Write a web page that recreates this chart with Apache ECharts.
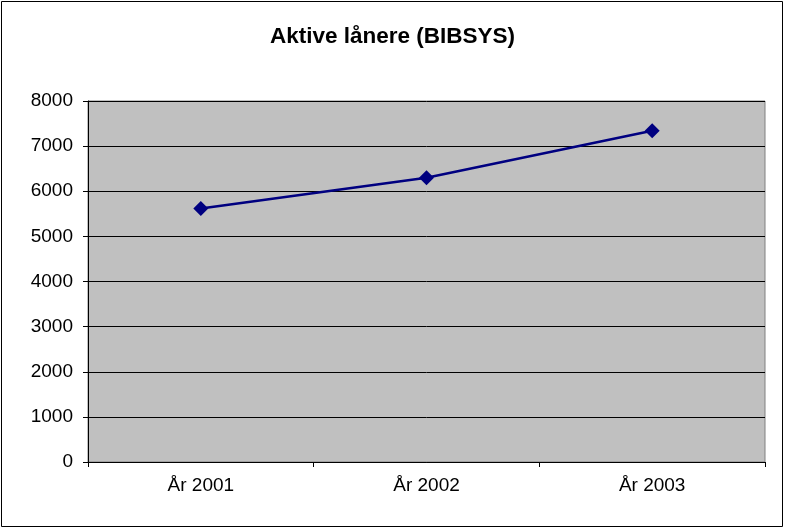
<!DOCTYPE html>
<html>
<head>
<meta charset="utf-8">
<script src="https://cdn.jsdelivr.net/npm/echarts@6/dist/echarts.min.js"></script>
<style>
  html, body { margin: 0; padding: 0; background: #fff; }
  #chart { width: 785px; height: 529px; }
</style>
</head>
<body>
<div id="chart"></div>
<script>
const categories = ['År 2001', 'År 2002', 'År 2003']
const borrowers = [5620, 6300, 7340]
const yMin = 0
const yMax = 8000
const yStep = 1000

const chart = echarts.init(document.getElementById('chart'), null, { renderer: 'canvas' })

chart.setOption({
  animation: false,
  backgroundColor: '#ffffff',
  title: {
    text: 'Aktive lånere (BIBSYS)',
    left: 'center',
    top: 20,
    textStyle: {
      fontFamily: 'Liberation Sans, Arial, sans-serif',
      fontSize: 22.5,
      fontWeight: 'bold',
      color: '#000'
    }
  },
  graphic: [
    {
      type: 'rect',
      shape: { x: 1.5, y: 1.5, width: 781, height: 525 },
      style: { fill: 'none', stroke: '#000', lineWidth: 1 },
      silent: true
    }
  ],
  grid: {
    left: 88,
    right: 20,
    top: 101,
    bottom: 67,
    show: true,
    backgroundColor: '#c0c0c0',
    borderColor: '#808080',
    borderWidth: 1
  },
  xAxis: {
    type: 'category',
    data: categories,
    boundaryGap: true,
    axisLine: { lineStyle: { color: '#000', width: 1 } },
    axisTick: { show: true, length: 5, lineStyle: { color: '#000' } },
    axisLabel: {
      margin: 14,
      fontFamily: 'Liberation Sans, Arial, sans-serif',
      fontSize: 19,
      color: '#000'
    },
    splitLine: { show: false }
  },
  yAxis: {
    type: 'value',
    min: yMin,
    max: yMax,
    interval: yStep,
    axisLine: { show: true, lineStyle: { color: '#000', width: 1 } },
    axisTick: { show: true, length: 5, lineStyle: { color: '#000' } },
    axisLabel: {
      margin: 15,
      fontFamily: 'Liberation Sans, Arial, sans-serif',
      fontSize: 19,
      color: '#000',
      formatter: v => String(v)
    },
    splitLine: { show: true, lineStyle: { color: '#000', width: 1 } }
  },
  series: [
    {
      name: 'Aktive lånere',
      type: 'line',
      data: borrowers,
      symbol: 'diamond',
      symbolSize: 15,
      showSymbol: true,
      itemStyle: { color: '#000080' },
      lineStyle: { color: '#000080', width: 2.5 }
    }
  ]
})
</script>
</body>
</html>
